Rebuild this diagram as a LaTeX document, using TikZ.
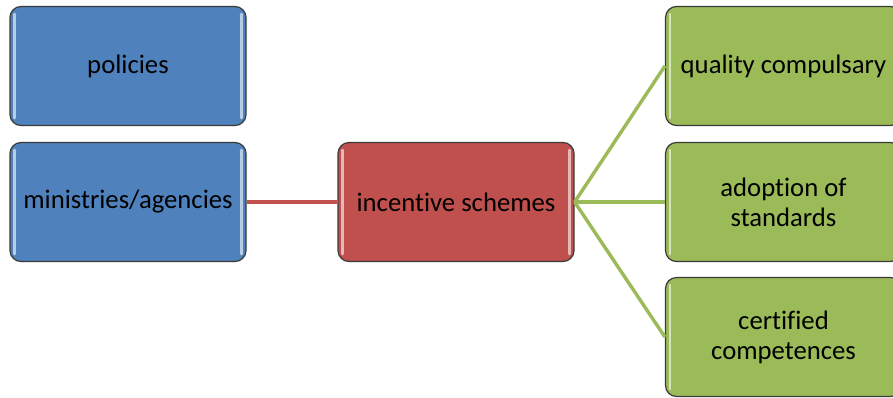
\documentclass[tikz,border=0pt]{standalone}
\usepackage{fontspec}
\setmainfont[Ligatures=CommonOff]{Carlito}
\definecolor{bblue}{HTML}{4F81BD}
\definecolor{bred}{HTML}{C0504D}
\definecolor{bgreen}{HTML}{9BBB59}
\definecolor{bedge}{HTML}{3A3A3A}
\begin{document}
\begin{tikzpicture}[x=1pt,y=-1pt,
  box/.style={draw=bedge,line width=1.2pt,rounded corners=11pt,minimum width=236pt,minimum height=119pt,
    inner sep=2pt,align=center,font=\fontsize{26.7}{30}\selectfont,text=black},
  shine/.style={white,opacity=0.6,line width=2.4pt,line cap=round},
  link/.style={line width=3.4pt}]
\useasboundingbox (0,0) rectangle (893,397);
\clip (0,0) rectangle (893,397);
\node[box,fill=bblue] (pol) at (128,66) {policies};
\node[box,fill=bblue] (min) at (128,202) {ministries/agencies};
\node[box,fill=bred] (inc) at (456,202) {incentive schemes};
\node[box,fill=bgreen] (qua) at (783.5,66) {quality compulsary};
\node[box,fill=bgreen] (ado) at (783.5,202) {adoption of\\standards};
\node[box,fill=bgreen] (cer) at (783.5,337) {certified\\competences};
\foreach \n in {pol,min,inc,qua,ado,cer}{
  \draw[shine] ([xshift=5pt,yshift=-8pt]\n.north west) -- ([xshift=5pt,yshift=8pt]\n.south west);
  \draw[shine] ([xshift=-5pt,yshift=-8pt]\n.north east) -- ([xshift=-5pt,yshift=8pt]\n.south east);
}
\draw[link,bred] (min.east) -- (inc.west);
\draw[link,bgreen] (inc.east) -- (qua.west);
\draw[link,bgreen] (inc.east) -- (ado.west);
\draw[link,bgreen] (inc.east) -- (cer.west);
\end{tikzpicture}
\end{document}
